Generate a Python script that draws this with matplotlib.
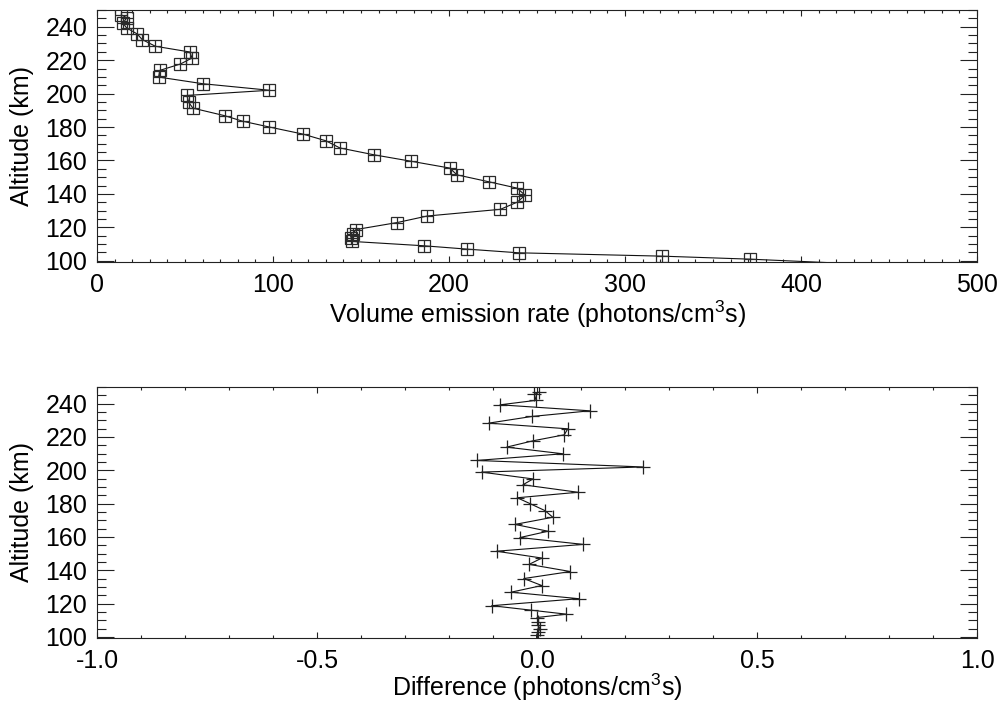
import matplotlib
matplotlib.use("Agg")
import matplotlib.pyplot as plt
from matplotlib.ticker import MultipleLocator

plt.rcParams['font.family'] = ['Liberation Sans', 'DejaVu Sans']
plt.rcParams['mathtext.fontset'] = 'custom'
plt.rcParams['mathtext.rm'] = 'Liberation Sans'
plt.rcParams['mathtext.default'] = 'regular'

# Altitude grid (km)
altitude = [247.0, 245.5, 242.0, 239.3, 235.7, 232.3, 228.3, 224.9, 221.3, 217.7,
            213.9, 209.9, 205.9, 202.0, 198.9, 194.8, 191.3, 186.8, 183.5, 180.0,
            175.8, 171.8, 167.5, 163.4, 159.6, 155.5, 151.4, 147.3, 143.5, 139.2,
            135.0, 130.8, 126.8, 122.9, 118.7, 116.0, 113.6, 111.6, 109.0, 107.0,
            104.8, 102.8, 101.0, 95.0]

# Volume emission rate (photons/cm^3 s)
ver = [13.8, 16.8, 14.9, 16.8, 22.8, 25.7, 33.2, 52.7, 54.0, 47.4,
       35.7, 35.0, 60.2, 98.0, 51.1, 52.1, 54.5, 72.5, 82.7, 98.0,
       117.0, 130.0, 138.0, 157.4, 178.2, 200.3, 204.6, 222.5, 238.6, 243.3,
       238.6, 229.2, 187.6, 170.6, 147.1, 145.5, 144.2, 145.0, 185.7, 210.2,
       239.5, 321.0, 371.0, 500.0]

# Difference (photons/cm^3 s)
diff = [0.005, -0.006, -0.002, -0.084, 0.120, -0.012, -0.110, 0.070, 0.062, -0.009,
        -0.069, 0.059, -0.137, 0.240, -0.126, -0.009, -0.032, 0.093, -0.045, -0.016,
        0.018, 0.036, -0.050, 0.025, -0.039, 0.105, -0.092, 0.011, -0.018, 0.076,
        -0.030, 0.011, -0.059, 0.095, -0.103, -0.013, 0.067, 0.000, 0.003, 0.002,
        0.007, 0.002, -0.001, 0.000]

y_ticks = [100, 120, 140, 160, 180, 200, 220, 240]
x1_ticks = [0, 100, 200, 300, 400, 500]
x2_ticks = [-1.0, -0.5, 0.0, 0.5, 1.0]
x2_ticklabels = ['-1.0', '-0.5', '0.0', '0.5', '1.0']

W, H = 1001, 702
fig = plt.figure(figsize=(W / 100, H / 100), dpi=100)
fig.patch.set_facecolor('white')

ax1 = fig.add_axes([97 / W, 440 / H, 880 / W, 252 / H])
ax2 = fig.add_axes([97 / W, 64 / H, 880 / W, 251 / H])

FS = 18
lc = '#111111'

# Top panel
ax1.plot(ver, altitude, color=lc, lw=0.8, zorder=3)
ax1.plot(ver, altitude, ls='none', marker='s', ms=8.8, mfc='none', mec='#2a2a2a', mew=0.9, zorder=4)
ax1.plot(ver, altitude, ls='none', marker='+', ms=8.8, mec='#2a2a2a', mew=0.9, zorder=4)
ax1.set_xlim(0, 500)
ax1.set_ylim(99.3, 250)
ax1.set_xticks(x1_ticks)
ax1.xaxis.set_minor_locator(MultipleLocator(10))
ax1.set_xlabel('Volume emission rate (photons/cm$^{3}$s)', fontsize=FS)
ax1.set_ylabel('Altitude (km)', fontsize=FS)

# Bottom panel
ax2.plot(diff, altitude, color=lc, lw=0.8, zorder=3)
ax2.plot(diff, altitude, ls='none', marker='+', ms=10, mec='#222222', mew=0.9, zorder=4)
ax2.set_xlim(-1.0, 1.0)
ax2.set_ylim(99.3, 250)
ax2.set_xticks(x2_ticks)
ax2.set_xticklabels(x2_ticklabels)
ax2.xaxis.set_minor_locator(MultipleLocator(0.1))
ax2.set_xlabel('Difference (photons/cm$^{3}$s)', fontsize=FS)
ax2.set_ylabel('Altitude (km)', fontsize=FS)

for ax in (ax1, ax2):
    ax.set_yticks(y_ticks)
    ax.yaxis.set_minor_locator(MultipleLocator(5))
    ax.tick_params(axis='both', which='both', direction='in', top=True, right=True,
                   colors='#222222', labelcolor='black', labelsize=FS)
    ax.tick_params(axis='y', which='major', length=12.5, width=0.8, pad=7)
    ax.tick_params(axis='y', which='minor', length=6.3, width=0.8)
    ax.tick_params(axis='x', which='major', length=4, width=0.8, pad=8)
    ax.tick_params(axis='x', which='minor', length=2, width=0.8)
    for s in ax.spines.values():
        s.set_linewidth(0.8)
        s.set_color('#222222')
    ax.yaxis.set_label_coords(-0.072, 0.5)

ax1.xaxis.set_label_coords(0.5, -0.145)
ax2.xaxis.set_label_coords(0.5, -0.135)

fig.savefig('out.png', dpi=100)
